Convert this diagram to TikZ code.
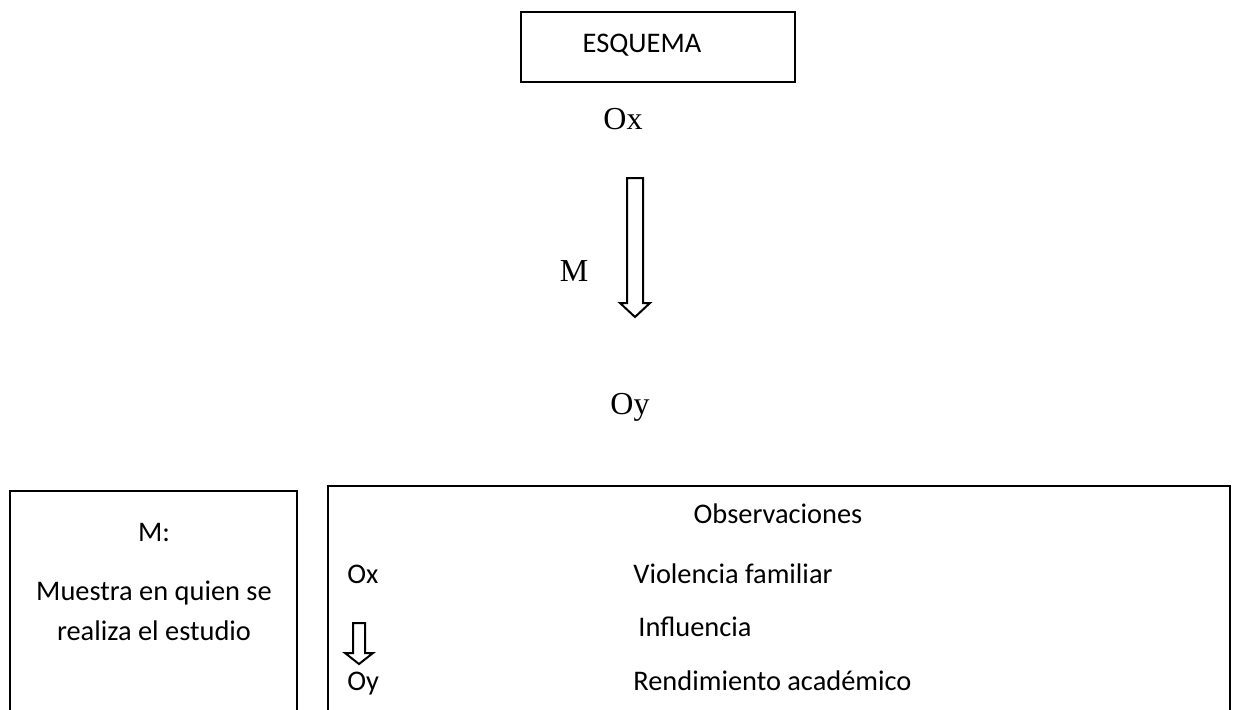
\documentclass[tikz,border=0pt]{standalone}
\usepackage{fontspec}
\setmainfont{Carlito}
\newfontfamily\timesfont{Liberation Serif}
\usepackage{tikz}
\tikzset{
  caja/.style={line width=1pt},
  flecha/.style={line width=1pt},
  txt/.style={inner sep=0pt,font=\fontsize{14.2}{17}\selectfont},
  serif/.style={inner sep=0pt,font=\timesfont\fontsize{16}{19}\selectfont}
}

\begin{document}
\begin{tikzpicture}[line cap=round,line join=miter,x=0.5pt,y=-0.5pt]
            \useasboundingbox (0,0) rectangle (1238,709);
            \clip (0,0) rectangle (1238,709);
            % titulo
            \draw [caja] (521,12) rectangle (795,82);
            \node [txt,anchor=base] (esquema) at (642,52) {ESQUEMA};
            % esquema de arriba
            \node [serif,anchor=base] (ox) at (623,129) {Ox};
            \node [serif,anchor=base] (m) at (574,281) {M};
            \node [serif,anchor=base] (oy) at (630,414) {Oy};
            \draw [flecha] (627,178) -- (627,303) -- (620,303) -- (635,317) -- (650,303) -- (643,303) -- (643,178) -- cycle;
            % cuadro de la muestra
            \draw [caja] (10,491) rectangle (297,740);
            \node [txt,anchor=base] (mm) at (154,541) {M:};
            \node [txt,anchor=base] (muestra) at (154,600) {Muestra en quien se};
            \node [txt,anchor=base] (realiza) at (154,640) {realiza el estudio};
            % cuadro de observaciones
            \draw [caja] (328,486) rectangle (1230,740);
            \node [txt,anchor=base] (obs) at (778,523) {Observaciones};
            \node [txt,anchor=base west] (ox2) at (347,583) {Ox};
            \node [txt,anchor=base west] (violencia) at (633,583) {Violencia familiar};
            \node [txt,anchor=base west] (influencia) at (638,636) {Influencia};
            \node [txt,anchor=base west] (oy2) at (347,690) {Oy};
            \node [txt,anchor=base west] (rendimiento) at (633,690) {Rendimiento académico};
            \draw [flecha] (353,623) -- (353,653) -- (345,653) -- (359,664) -- (373,653) -- (365,653) -- (365,623) -- cycle;
\end{tikzpicture}
\end{document}
